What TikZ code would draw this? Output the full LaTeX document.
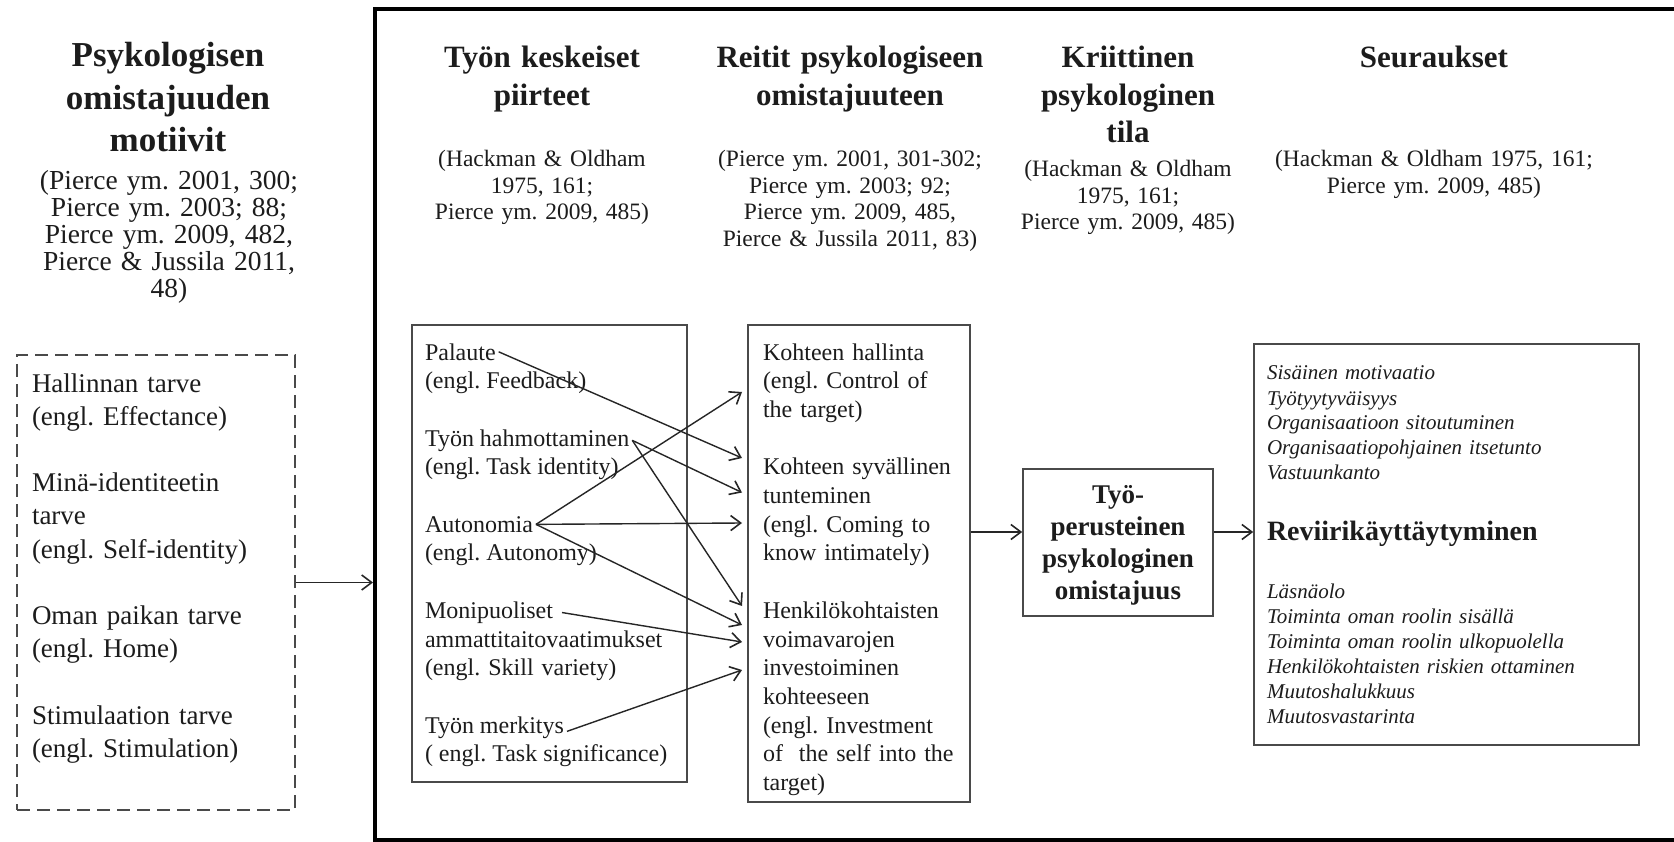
\documentclass[tikz,border=0pt]{standalone}
\usepackage{fontspec}
\setmainfont{Liberation Serif}
\usetikzlibrary{arrows.meta}
\definecolor{txtc}{HTML}{1C1C1C}
\definecolor{boxc}{HTML}{4A4A4A}
\definecolor{arrc}{HTML}{262626}
\lineskiplimit=-100pt
\frenchspacing
\begin{document}
\frenchspacing
\begin{tikzpicture}[x=1pt,y=-1pt,
  txt/.style={inner sep=0pt, outer sep=0pt, text=txtc},
  head/.style={txt, anchor=base, align=center, text width=290pt, font=\bfseries\fontsize{31}{37.5}\selectfont},
  cite/.style={txt, anchor=base, align=center, text width=290pt, font=\fontsize{23.5}{26.5}\selectfont},
  itemA/.style={txt, anchor=base west, font=\fontsize{24}{28.7}\selectfont},
  multiA/.style={itemA, text width=#1, align=left},
  itemL/.style={txt, anchor=base west, text width=255pt, align=left, font=\fontsize{27}{33.2}\selectfont},
  itD/.style={txt, anchor=base west, text width=365pt, align=left, font=\itshape\fontsize{21}{25}\selectfont},
  box/.style={draw=boxc, line width=1.6pt, inner sep=0pt},
  arr/.style={draw=arrc, line width=1.4pt, -{Straight Barb[length=10pt,width=15pt,line width=1.6pt]}},
]
\useasboundingbox[fill=white] (0,0) rectangle (1674,842);

% outer frame
\node[draw=black, line width=4pt, minimum width=1304pt, minimum height=831pt, inner sep=0pt] (frame) at (1027,424.5) {};

% left column
\node[head, text width=330pt, font=\bfseries\fontsize{35}{42.5}\selectfont] (lh) at (168,67) {Psykologisen\\omistajuuden\\motiivit};
\node[cite, text width=330pt, font=\fontsize{27.5}{26.8}\selectfont] (lc) at (169,190) {(Pierce ym. 2001, 300;\\Pierce ym. 2003; 88;\\Pierce ym. 2009, 482,\\Pierce \& Jussila 2011,\\48)};

\node[box, line width=1.5pt, dash pattern=on 13pt off 7pt, minimum width=278pt, minimum height=455pt] (motbox) at (156,582.5) {};
\node[itemL] (m1) at (32,392) {Hallinnan tarve\\(engl. Effectance)};
\node[itemL] (m2) at (32,491.6) {Minä-identiteetin\\tarve\\(engl. Self-identity)};
\node[itemL] (m3) at (32,624.4) {Oman paikan tarve\\(engl. Home)};
\node[itemL] (m4) at (32,724) {Stimulaation tarve\\(engl. Stimulation)};

\draw[arr, line width=1.5pt] (motbox.east) -- (frame.west |- motbox.east);

% column headings
\node[head] (h1) at (542,68) {Työn keskeiset\\piirteet};
\node[cite] (c1) at (542,167) {(Hackman \& Oldham\\1975, 161;\\Pierce ym. 2009, 485)};
\node[head] (h2) at (850,68) {Reitit psykologiseen\\omistajuuteen};
\node[cite] (c2) at (850,167) {(Pierce ym. 2001, 301-302;\\Pierce ym. 2003; 92;\\Pierce ym. 2009, 485,\\Pierce \& Jussila 2011, 83)};
\node[head, text width=240pt] (h3) at (1128,68) {Kriittinen\\psykologinen\\tila};
\node[cite, text width=240pt] (c3) at (1128,177) {(Hackman \& Oldham\\1975, 161;\\Pierce ym. 2009, 485)};
\node[head, text width=360pt] (h4) at (1434,68) {Seuraukset};
\node[cite, text width=360pt] (c4) at (1434,167) {(Hackman \& Oldham 1975, 161;\\Pierce ym. 2009, 485)};

% box A: job characteristics
\node[box, minimum width=275pt, minimum height=457pt] (boxA) at (549.5,553.5) {};
\node[itemA] (a1) at (425,360) {Palaute};
\node[itemA] (a1e) at (425,388.7) {(engl. Feedback)};
\node[itemA] (a2) at (425,446.1) {Työn hahmottaminen};
\node[itemA] (a2e) at (425,474.8) {(engl. Task identity)};
\node[itemA] (a3) at (425,532.2) {Autonomia};
\node[itemA] (a3e) at (425,560.9) {(engl. Autonomy)};
\node[itemA] (a4) at (425,618.3) {Monipuoliset};
\node[multiA=262pt] (a4e) at (425,647) {ammattitaitovaatimukset\\(engl. Skill variety)};
\node[itemA] (a5) at (425,733.1) {Työn merkitys};
\node[itemA] (a5e) at (425,761.8) {( engl. Task significance)};

% box B: routes
\node[box, minimum width=222pt, minimum height=477pt] (boxB) at (859,563.5) {};
\node[multiA=205pt] (b1) at (763,360) {Kohteen hallinta\\(engl. Control of\\the target)};
\node[multiA=205pt] (b2) at (763,474.8) {Kohteen syvällinen\\tunteminen\\(engl. Coming to\\know intimately)};
\node[multiA=205pt] (b3) at (763,618.3) {Henkilökohtaisten\\voimavarojen\\investoiminen\\kohteeseen\\(engl. Investment\\of\ \ the self into the\\target)};

% arrow targets at box B
\coordinate (t0) at (742,392);
\coordinate (t1) at (742,458);
\coordinate (t2) at (742,492.5);
\coordinate (t3) at (742,523);
\coordinate (t5) at (742,606);
\coordinate (t6) at (742,625);
\coordinate (t7) at (742,642);
\coordinate (t8) at (742,670);

\draw[arr] ([xshift=3pt]a1.east) -- (t1);
\draw[arr] ([xshift=3pt]a2.east) -- (t2);
\draw[arr] ([xshift=3pt]a2.east) -- (t5);
\draw[arr] ([xshift=3pt]a3.east) -- (t0);
\draw[arr] ([xshift=3pt]a3.east) -- (t3);
\draw[arr] ([xshift=3pt]a3.east) -- (t6);
\draw[arr] ([xshift=9pt]a4.east) -- (t7);
\draw[arr] ([xshift=3pt,yshift=-4pt]a5.east) -- (t8);

% box C
\node[box, minimum width=190pt, minimum height=147pt] (boxC) at (1118,542.5) {};
\node[txt, anchor=base, align=center, text width=185pt, font=\bfseries\fontsize{27}{32.3}\selectfont] (ct) at (1118,503) {Työ-\\perusteinen\\psykologinen\\omistajuus};

% box D
\node[box, minimum width=385pt, minimum height=401pt] (boxD) at (1446.5,544.5) {};
\node[itD] (d1) at (1267,380) {Sisäinen motivaatio\\Työtyytyväisyys\\Organisaatioon sitoutuminen\\Organisaatiopohjainen itsetunto\\Vastuunkanto};
\node[txt, anchor=base west, font=\bfseries\fontsize{28}{33}\selectfont] (d2) at (1267,540) {Reviirikäyttäytyminen};
\node[itD] (d3) at (1267,598) {Läsnäolo\\Toiminta oman roolin sisällä\\Toiminta oman roolin ulkopuolella\\Henkilökohtaisten riskien ottaminen\\Muutoshalukkuus\\Muutosvastarinta};

\coordinate (cin) at ([yshift=10.5pt]boxC.west);
\coordinate (cout) at ([yshift=10.5pt]boxC.east);
\draw[arr] (cin -| boxB.east) -- (cin);
\draw[arr] (cout) -- (cout -| boxD.west);
\end{tikzpicture}
\end{document}
